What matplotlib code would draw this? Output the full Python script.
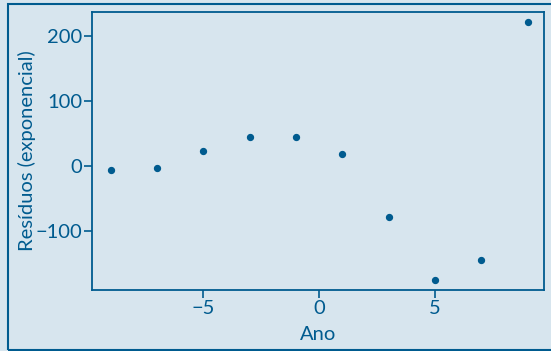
import matplotlib.pyplot as plt
from matplotlib.patches import Rectangle

# residuals of the exponential fit
ano = [-9, -7, -5, -3, -1, 1, 3, 5, 7, 9]
residuos = [-6, -3.5, 23.5, 44, 44.5, 18, -79, -176, -145, 221]

bg = "#d7e5ee"
azul = "#005b8f"

plt.rcParams['font.family'] = ['Lato', 'DejaVu Sans']

fig = plt.figure(figsize=(5.51, 3.51), dpi=100, facecolor=bg)
ax = fig.add_axes([0.167, 0.174, 0.820, 0.792], facecolor=bg)

ax.scatter(ano, residuos, s=18, color=azul, zorder=3)

ax.set_xlim(-9.8, 9.7)
ax.set_ylim(-191, 237)
ax.set_xticks([-5, 0, 5])
ax.set_yticks([-100, 0, 100, 200])
ax.set_xticklabels(["\u22125", "0", "5"])
ax.set_yticklabels(["\u2212100", "0", "100", "200"])

for s in ax.spines.values():
    s.set_color(azul)
    s.set_linewidth(1.3)
ax.tick_params(colors=azul, labelsize=14.5, length=6, width=1.2, pad=1)

ax.set_xlabel("Ano", fontsize=14.5, color=azul, labelpad=7)
ax.set_ylabel("Resíduos (exponencial)", fontsize=14.5, color=azul, labelpad=0)

# outer frame (right edge falls outside the image)
fig.patches.append(Rectangle((8 / 551, 1 / 351), 1.1, 346 / 351,
                             transform=fig.transFigure, fill=False,
                             edgecolor=azul, linewidth=1.5))

plt.savefig("out.png", dpi=100, facecolor=bg)
